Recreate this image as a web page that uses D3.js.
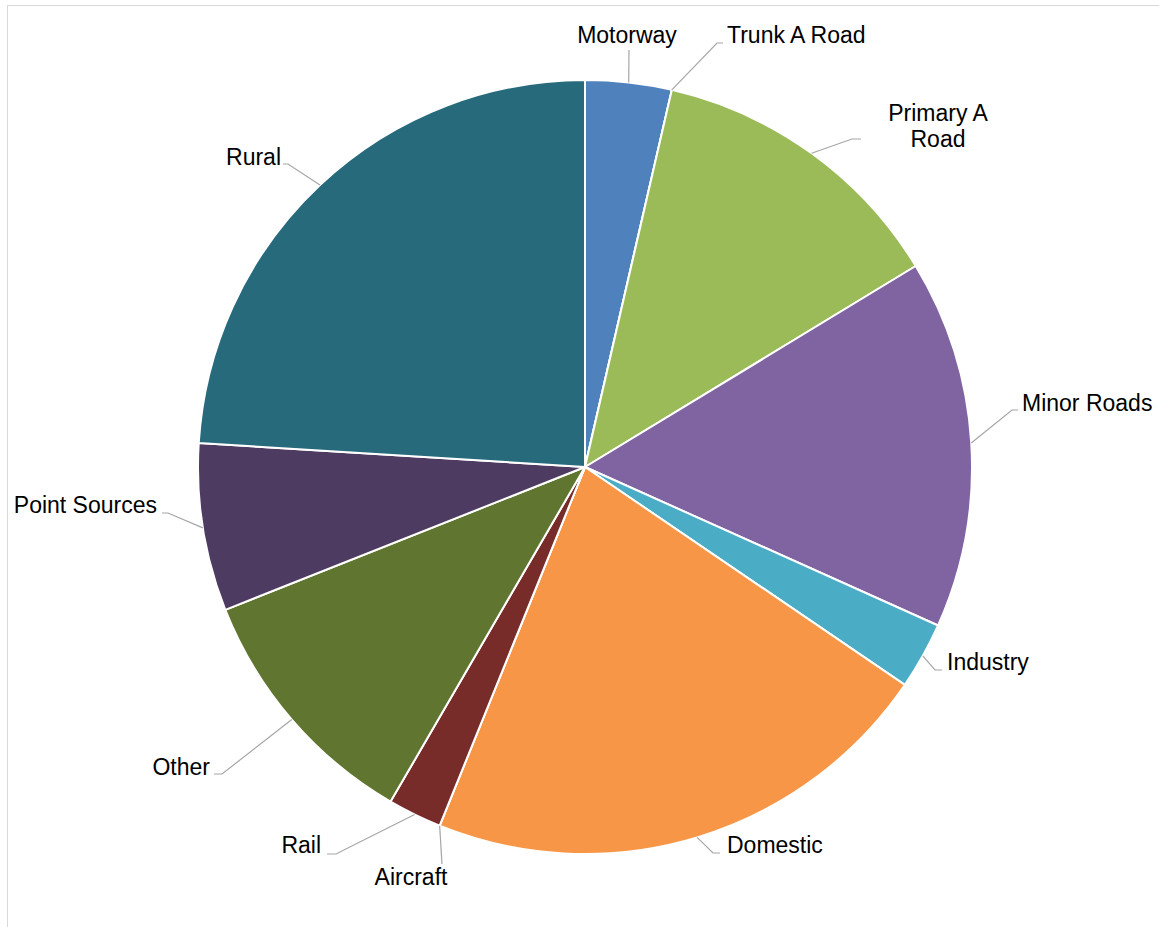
<!DOCTYPE html>
<html>
<head>
<meta charset="utf-8">
<script src="https://cdn.jsdelivr.net/npm/d3@7"></script>
<style>
  html, body { margin: 0; padding: 0; background: #ffffff; }
  svg { display: block; }
  text { font-family: "Liberation Sans", Arial, sans-serif; fill: #000000; }
</style>
</head>
<body>
<svg id="chart" width="1159" height="927"></svg>
<script>
// Emission source shares (%), clockwise from 12 o'clock
const categories = ["Motorway", "Trunk A Road", "Primary A Road", "Minor Roads", "Industry",
                    "Domestic", "Aircraft", "Rail", "Other", "Point Sources", "Rural"];
const shares = [3.6, 0, 12.7, 15.4, 2.8, 21.6, 0, 2.25, 10.6, 7.0, 24.0];
const colours = ["#4F81BD", "#C0504D", "#9BBB59", "#8064A2", "#4BACC6",
                 "#F79646", "#2C4D75", "#772C2A", "#5F7530", "#4D3B62", "#276A7C"];

// Label placement: text lines, anchor, text position and leader elbow/end points
const labelLayout = [
  { lines: ["Motorway"], anchor: "middle", x: 627, y: 43, elbow: [629, 50], end: [629, 50] },
  { lines: ["Trunk A Road"], anchor: "start", x: 727, y: 43, elbow: [717, 43], end: [723, 43] },
  { lines: ["Primary A", "Road"], anchor: "middle", x: 938, y: 121, elbow: [852, 139], end: [861, 139] },
  { lines: ["Minor Roads"], anchor: "start", x: 1022, y: 411, elbow: [1012, 410], end: [1018, 410] },
  { lines: ["Industry"], anchor: "start", x: 947, y: 670, elbow: [935, 670], end: [942, 670] },
  { lines: ["Domestic"], anchor: "start", x: 727, y: 853, elbow: [713, 853], end: [720, 853] },
  { lines: ["Aircraft"], anchor: "middle", x: 411, y: 885, elbow: [442, 864], end: [442, 864] },
  { lines: ["Rail"], anchor: "end", x: 321, y: 853, elbow: [336, 854], end: [327, 854] },
  { lines: ["Other"], anchor: "end", x: 210, y: 775, elbow: [222, 774], end: [214, 774] },
  { lines: ["Point Sources"], anchor: "end", x: 157, y: 513, elbow: [168, 513], end: [162, 513] },
  { lines: ["Rural"], anchor: "end", x: 281, y: 165, elbow: [288, 164], end: [283, 164] }
];

const svg = d3.select("#chart");
const cx = 585, cy = 467, radius = 387;

// Plot-area frame
svg.append("rect")
  .attr("x", 7.5).attr("y", 5.5)
  .attr("width", 1170).attr("height", 940)
  .attr("fill", "none")
  .attr("stroke", "#d9d9d9")
  .attr("stroke-width", 1);

const data = categories.map((c, i) => ({ name: c, value: shares[i], colour: colours[i], layout: labelLayout[i] }));

const pie = d3.pie().sort(null).value(d => d.value);
const arcs = pie(data);

const arc = d3.arc().innerRadius(0).outerRadius(radius);
const edgeArc = d3.arc().innerRadius(radius).outerRadius(radius);

const g = svg.append("g").attr("transform", `translate(${cx},${cy})`);

g.selectAll("path.slice")
  .data(arcs)
  .join("path")
  .attr("class", "slice")
  .attr("d", arc)
  .attr("fill", d => d.data.colour)
  .attr("stroke", "#ffffff")
  .attr("stroke-width", 2)
  .attr("stroke-linejoin", "round");

// Leader lines from the slice edge to each label
const line = d3.line();
svg.selectAll("path.leader")
  .data(arcs)
  .join("path")
  .attr("class", "leader")
  .attr("d", d => {
    const [ex, ey] = edgeArc.centroid(d);
    const L = d.data.layout;
    return line([[cx + ex, cy + ey], L.elbow, L.end]);
  })
  .attr("fill", "none")
  .attr("stroke", "#a6a6a6")
  .attr("stroke-width", 1.2);

// Category labels
const labels = svg.selectAll("text.label")
  .data(arcs)
  .join("text")
  .attr("class", "label")
  .attr("text-anchor", d => d.data.layout.anchor)
  .attr("font-size", 23)
  .attr("x", d => d.data.layout.x)
  .attr("y", d => d.data.layout.y);

labels.selectAll("tspan")
  .data(d => d.data.layout.lines.map((t, i) => ({ t, i, x: d.data.layout.x })))
  .join("tspan")
  .attr("x", d => d.x)
  .attr("dy", d => d.i === 0 ? 0 : 26)
  .text(d => d.t);
</script>
</body>
</html>
